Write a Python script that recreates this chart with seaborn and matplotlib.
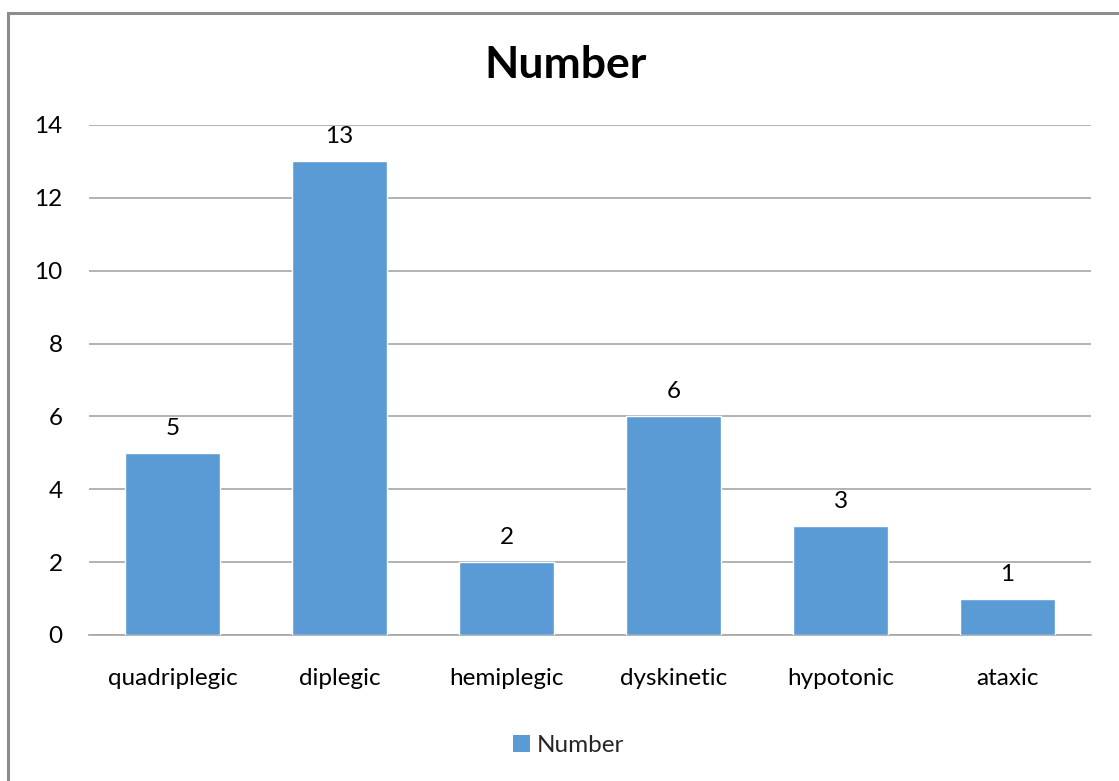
import matplotlib
matplotlib.use("Agg")
import matplotlib.pyplot as plt
import seaborn as sns
import pandas as pd
from matplotlib.patches import Rectangle, Patch

categories = ["quadriplegic", "diplegic", "hemiplegic", "dyskinetic", "hypotonic", "ataxic"]
values = [5, 13, 2, 6, 3, 1]
yticks = [0, 2, 4, 6, 8, 10, 12, 14]
series_name = "Number"

sns.set_theme(style="white")
plt.rcParams["font.family"] = ["Lato", "DejaVu Sans"]

df = pd.DataFrame({"category": categories, "value": values})

fig = plt.figure(figsize=(11.19, 7.81), dpi=100)
ax = fig.add_axes([0.0795, 0.187, 0.8955, 0.653])

bar_color = "#5B9BD5"
sns.barplot(data=df, x="category", y="value", color=bar_color, width=0.57,
            saturation=1, ax=ax, zorder=3)

fs = 17.5
ax.set_ylim(0, 14)
ax.set_yticks(yticks)
ax.set_yticklabels([str(t) for t in yticks], fontsize=fs, color="#000000")
ax.tick_params(axis="x", labelsize=fs, colors="#000000", pad=24, length=0)
ax.tick_params(axis="y", pad=19, length=0)
ax.set_xlabel("")
ax.set_ylabel("")
ax.yaxis.grid(True, color="#A6A6A6", linewidth=1.2, zorder=0)
ax.xaxis.grid(False)
for side in ["left", "right", "top"]:
    ax.spines[side].set_visible(False)
ax.spines["bottom"].set_color("#A6A6A6")
ax.spines["bottom"].set_linewidth(1.2)

for container in ax.containers:
    ax.bar_label(container, labels=[str(v) for v in values], padding=10,
                 fontsize=fs, color="#000000")

fig.suptitle(series_name, x=0.505, y=0.917, fontsize=32, fontweight="bold",
             color="#000000", va="center")

handle = Patch(facecolor=bar_color, edgecolor="none")
fig.legend([handle], [series_name], loc="center", bbox_to_anchor=(0.508, 0.045),
           frameon=False, fontsize=fs, handlelength=0.7, handleheight=0.7,
           handletextpad=0.3)

# chart frame (top and left edges visible)
frame = Rectangle((8 / 1119, -0.2), 1.5, 1.2 - 13 / 781, transform=fig.transFigure,
                  fill=False, edgecolor="#8C8C8C", linewidth=2.2, zorder=10)
fig.patches.append(frame)

fig.savefig("out.png", dpi=100)
